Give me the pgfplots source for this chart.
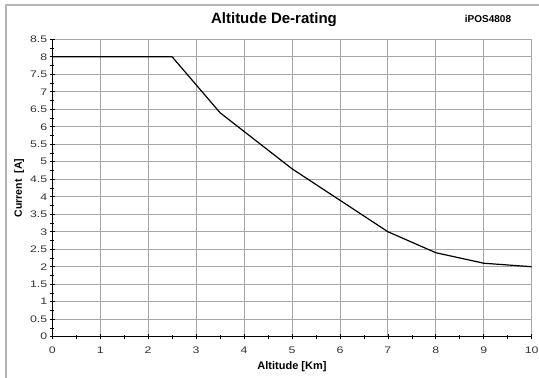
\documentclass[border=0pt]{standalone}
\usepackage{fontspec}
\setmainfont{Liberation Sans}
\newfontfamily\tickfont{Liberation Sans}[FakeStretch=1.3]
\usepackage{pgfplots}
\pgfplotsset{compat=1.18}
\definecolor{gridgray}{HTML}{A8A8A8}
\definecolor{framegray}{HTML}{B4B4B4}
\begin{document}
\begin{tikzpicture}[x=1pt,y=1pt]
\useasboundingbox (0,0) rectangle (539,378);
\draw[framegray, line width=1.6pt] (6,0) -- (6,373) -- (539,373);
\node[font=\fontsize{15}{18}\selectfont\bfseries] at (274,358) {Altitude De-rating};
\node[font=\fontsize{10}{12}\selectfont\bfseries] at (488,359) {iPOS4808};
\begin{axis}[
  at={(52.3pt,41.3pt)}, anchor=south west,
  scale only axis, width=479.4pt, height=297.4pt,
  xmin=0, xmax=10, ymin=0, ymax=8.5,
  axis x line*=bottom, axis y line*=left,
  axis line style={black, line width=0.8pt},
  xtick={0,1,...,10}, ytick={0,0.5,...,8.5},
  minor x tick num=1, minor y tick num=1,
  tick align=center,
  major tick length=5pt, minor tick length=4pt,
  tick style={black, line width=0.7pt},
  grid=major,
  major grid style={gridgray, line width=0.8pt},
  /pgf/number format/assume math mode=true,
  ticklabel style={font=\tickfont\fontsize{9.5}{11}\selectfont, text=black!80},
  yticklabel style={/pgf/number format/fixed, /pgf/number format/precision=1, xshift=1pt},
  xticklabel style={yshift=-4pt},
  xlabel={\bfseries Altitude [Km]},
  ylabel={\bfseries Current\ \ [A]},
  xlabel style={font=\fontsize{11}{13}\selectfont, at={(axis description cs:0.5,-0.102)}, anchor=center},
  ylabel style={font=\fontsize{10.5}{13}\selectfont, at={(axis description cs:-0.069,0.5)}, anchor=center},
  clip=false,
]
\addplot[black, line width=1.2pt] coordinates {
 (0,8) (2.5,8) (3.5,6.4) (5,4.8) (7,3) (8,2.4) (9,2.1) (10,2)
};
\end{axis}
\end{tikzpicture}
\end{document}
